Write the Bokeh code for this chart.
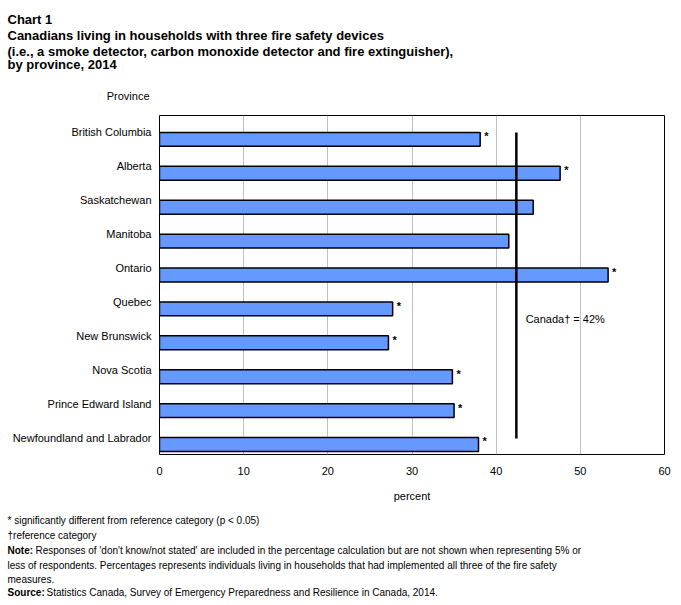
from bokeh.plotting import figure
from bokeh.layouts import column
from bokeh.models import Range1d, Label, FixedTicker
from bokeh.embed import file_html
from bokeh.resources import INLINE
from bokeh.core.properties import value

# --- data -------------------------------------------------------------
provinces = [
    "British Columbia", "Alberta", "Saskatchewan", "Manitoba", "Ontario",
    "Quebec", "New Brunswick", "Nova Scotia", "Prince Edward Island",
    "Newfoundland and Labrador",
]
percent = [38.1, 47.6, 44.4, 41.5, 53.3, 27.7, 27.2, 34.8, 35.0, 37.9]
significant = [True, True, False, False, True, True, True, True, True, True]
canada = 42.4
x_ticks = [0, 10, 20, 30, 40, 50, 60]

title_lines = [
    "Chart 1",
    "Canadians living in households with three fire safety devices",
    "(i.e., a smoke detector, carbon monoxide detector and fire extinguisher),",
    "by province, 2014",
]
notes = [
    "* significantly different from reference category (p < 0.05)",
    "\u2020reference category",
]
note_body = [
    "Responses of 'don't know/not stated' are included in the percentage calculation but are not shown when representing 5% or",
    "less of respondents. Percentages represents individuals living in households that had implemented all three of the fire safety",
    "measures.",
]
source_body = "Statistics Canada, Survey of Emergency Preparedness and Resilience in Canada, 2014."

# --- layout -----------------------------------------------------------
W, H = 681, 605
HEAD_H, FOOT_TOP = 100, 510
FL, FR, FT, FB = 159, 664, 115, 454
XMAX = x_ticks[-1]
N = len(provinces)
FONT = "Liberation Sans"
BAR = "#6699ff"


def text_panel(top, bottom):
    """A bare figure whose data units are page pixels (y grows downward)."""
    f = figure(width=W, height=bottom - top, output_backend="svg",
               toolbar_location=None, title=None,
               x_range=Range1d(0, W), y_range=Range1d(bottom, top),
               min_border=0, outline_line_color=None)
    f.axis.visible = False
    f.grid.visible = False
    return f


def put(f, x, y, text, size="11px", bold=False, align="left",
        baseline="middle"):
    f.add_layout(Label(x=x, y=y, text=text, text_font=FONT,
                       text_font_size=size, text_color="black",
                       text_font_style="bold" if bold else "normal",
                       text_align=align, text_baseline=baseline))


# header: title block and the category header
head = text_panel(0, HEAD_H)
for text, base in zip(title_lines, [19, 35, 51, 64]):
    put(head, 7, base, text, size="13px", bold=True, baseline="alphabetic")
put(head, 149, 95, "Province", align="right")

# main chart
p = figure(
    width=W, height=FOOT_TOP - HEAD_H, output_backend="svg",
    toolbar_location=None, title=None,
    x_range=Range1d(0, XMAX), y_range=Range1d(N, 0),
    min_border_left=FL, min_border_right=W - FR,
    min_border_top=FT - HEAD_H, min_border_bottom=FOOT_TOP - FB,
)
p.background_fill_color = "white"
p.border_fill_color = "white"
p.outline_line_color = "black"
p.outline_line_width = 1

# bars sit in the lower half of each province band
bar_y = [i + 0.705 for i in range(N)]
p.hbar(y=bar_y, height=0.41, left=0, right=percent,
       fill_color=BAR, line_color="black", line_width=1.5)

# significance markers
star_x = [v for v, s in zip(percent, significant) if s]
star_y = [y for y, s in zip(bar_y, significant) if s]
p.text(x=star_x, y=star_y, text=["*"] * len(star_x), x_offset=4, y_offset=-3,
       text_baseline="middle", text_align="left", text_font_style="bold",
       text_font=value(FONT), text_font_size="11px", text_color="black")

# Canada reference line
p.segment(x0=[canada], x1=[canada], y0=[0.5], y1=[N - 0.47],
          line_color="black", line_width=2.5)
p.add_layout(Label(x=canada + 1.1, y=6.0, text=f"Canada\u2020 = {canada:.0f}%",
                   text_font=FONT, text_font_size="11px", text_color="black",
                   text_baseline="middle", text_align="left"))

# axes
p.xaxis.ticker = FixedTicker(ticks=x_ticks)
p.xaxis.axis_line_color = None
p.xaxis.major_tick_line_color = None
p.xaxis.minor_tick_line_color = None
p.xaxis.major_label_standoff = 6
p.xaxis.major_label_text_font = FONT
p.xaxis.major_label_text_font_size = "11px"
p.xaxis.major_label_text_color = "black"
p.xaxis.axis_label = "percent"
p.xaxis.axis_label_text_font = FONT
p.xaxis.axis_label_text_font_size = "11px"
p.xaxis.axis_label_text_font_style = "normal"
p.xaxis.axis_label_text_color = "black"
p.xaxis.axis_label_standoff = 12

yt = [i + 0.5 for i in range(N)]
p.yaxis.ticker = FixedTicker(ticks=yt)
p.yaxis.major_label_overrides = {t: name for t, name in zip(yt, provinces)}
p.yaxis.axis_line_color = None
p.yaxis.major_tick_line_color = None
p.yaxis.minor_tick_line_color = None
p.yaxis.major_tick_out = 0
p.yaxis.major_label_standoff = 8
p.yaxis.major_label_text_font = FONT
p.yaxis.major_label_text_font_size = "11px"
p.yaxis.major_label_text_color = "black"

p.ygrid.visible = False
p.xgrid.grid_line_color = "#c0c0c0"
p.xgrid.grid_line_width = 1

# footer: notes and source
FS = "10px"
foot = text_panel(FOOT_TOP, H)
put(foot, 7, 520, notes[0], size=FS)
put(foot, 7, 535, notes[1], size=FS)
put(foot, 7, 550, "Note:", bold=True, size=FS)
put(foot, 35, 550, note_body[0], size=FS)
put(foot, 7, 565, note_body[1], size=FS)
put(foot, 7, 579, note_body[2], size=FS)
put(foot, 7, 592, "Source:", bold=True, size=FS)
put(foot, 46, 592, source_body, size=FS)

# the chart sits in its own box so its borders are not shared with the text panels
layout = column(head, column(p), foot, spacing=0)
open("out.html", "w").write(file_html(layout, INLINE))
